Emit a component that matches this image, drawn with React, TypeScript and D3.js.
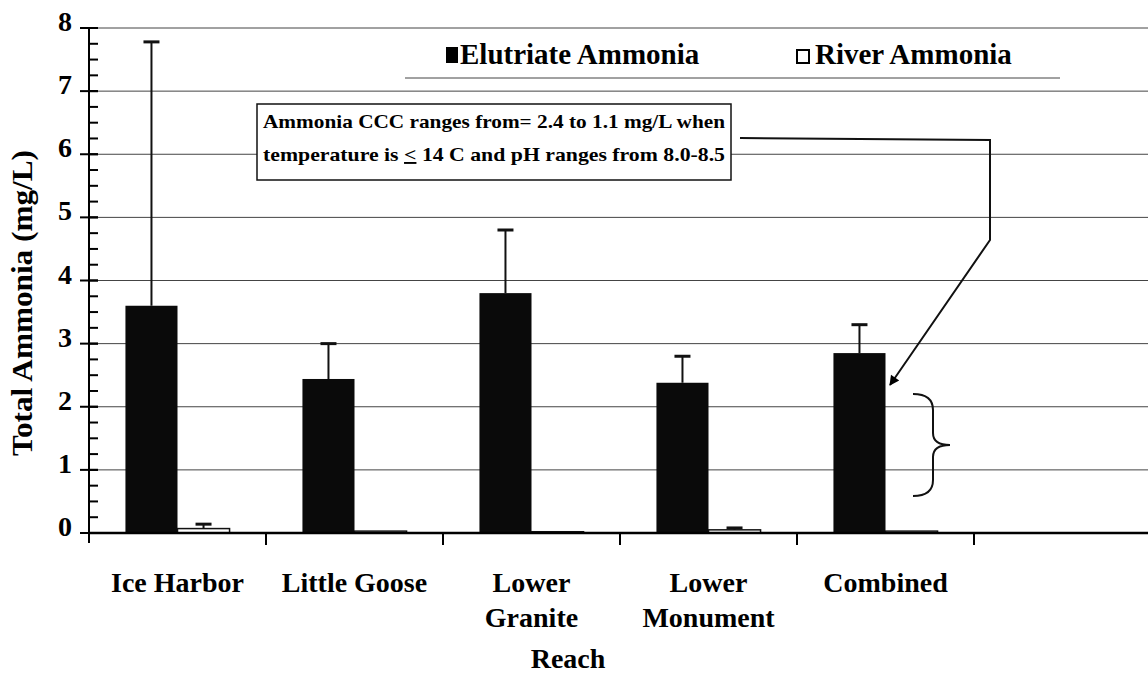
import * as d3 from 'd3';
import { useEffect, useRef } from 'react';

// values
const reaches = ['Ice Harbor', 'Little Goose', 'Lower Granite', 'Lower Monument', 'Combined', ''];
const reachLines = [['Ice Harbor'], ['Little Goose'], ['Lower', 'Granite'], ['Lower', 'Monument'], ['Combined'], []];
const elutriate = [3.6, 2.44, 3.8, 2.38, 2.85];
const elutriateErr = [4.18, 0.56, 1.0, 0.42, 0.45];
const river = [0.07, 0.03, 0.02, 0.05, 0.03];
const riverErr = [0.07, 0, 0, 0.03, 0];
const yTicks = [0, 1, 2, 3, 4, 5, 6, 7, 8];
const minorTicks = d3.range(0, 8.01, 0.25);
const noteLines = ['Ammonia CCC ranges from= 2.4 to 1.1 mg/L when', 'temperature is ', ' 14 C and pH ranges from 8.0-8.5'];

const FONT = '"Liberation Serif", "Times New Roman", serif';

function App() {
  const svgRef = useRef<SVGSVGElement>(null);

  useEffect(() => {
    const W = 1148, H = 675;
    const svg = d3.select(svgRef.current);
    svg.selectAll('*').remove();
    svg.attr('width', W).attr('height', H).style('font-family', FONT);

    const left = 89, right = 1151, bottom = 533, top = 28;

    const x = d3.scaleBand().domain(reaches).range([left, right]).paddingInner(0).paddingOuter(0);
    const sub = d3.scaleBand().domain(['e', 'r']).range([0, x.bandwidth()]).paddingOuter(0.7).paddingInner(0);
    const y = d3.scaleLinear().domain([0, 8]).range([bottom, top]);

    // gridlines
    svg.append('g').selectAll('line').data(yTicks.filter(d => d > 0)).join('line')
      .attr('x1', left).attr('x2', W).attr('y1', d => y(d)).attr('y2', d => y(d))
      .attr('stroke', '#444').attr('stroke-width', 1);

    // legend box lines
    svg.append('line').attr('x1', 405).attr('x2', 1060).attr('y1', 78).attr('y2', 78)
      .attr('stroke', '#444').attr('stroke-width', 1);

    const bars = svg.append('g');
    elutriate.forEach((v, i) => {
      const bx = x(reaches[i])! + sub('e')!;
      bars.append('rect').attr('x', bx).attr('y', y(v)).attr('width', sub.bandwidth()).attr('height', y(0) - y(v))
        .attr('fill', '#0a0a0a');
      const cx = bx + sub.bandwidth() / 2;
      const t = y(v + elutriateErr[i]);
      bars.append('line').attr('x1', cx).attr('x2', cx).attr('y1', y(v)).attr('y2', t).attr('stroke', '#111').attr('stroke-width', 2);
      bars.append('line').attr('x1', cx - 8).attr('x2', cx + 8).attr('y1', t).attr('y2', t).attr('stroke', '#111').attr('stroke-width', 3);
    });
    river.forEach((v, i) => {
      const bx = x(reaches[i])! + sub('r')!;
      bars.append('rect').attr('x', bx).attr('y', y(v)).attr('width', sub.bandwidth()).attr('height', y(0) - y(v))
        .attr('fill', '#fff').attr('stroke', '#111').attr('stroke-width', 1.5);
      if (riverErr[i] > 0) {
        const cx = bx + sub.bandwidth() / 2;
        const t = y(v + riverErr[i]);
        bars.append('line').attr('x1', cx).attr('x2', cx).attr('y1', y(v)).attr('y2', t).attr('stroke', '#111').attr('stroke-width', 2);
        bars.append('line').attr('x1', cx - 8).attr('x2', cx + 8).attr('y1', t).attr('y2', t).attr('stroke', '#111').attr('stroke-width', 3);
      }
    });

    // y axis
    const ya = svg.append('g');
    ya.append('line').attr('x1', left).attr('x2', left).attr('y1', top).attr('y2', bottom + 10)
      .attr('stroke', '#000').attr('stroke-width', 2);
    ya.selectAll('line.minor').data(minorTicks).join('line').attr('class', 'minor')
      .attr('x1', left).attr('x2', left + 9).attr('y1', d => y(d)).attr('y2', d => y(d))
      .attr('stroke', '#000').attr('stroke-width', 2);
    ya.selectAll('line.major').data(yTicks).join('line').attr('class', 'major')
      .attr('x1', left - 9).attr('x2', left + 9).attr('y1', d => y(d)).attr('y2', d => y(d))
      .attr('stroke', '#000').attr('stroke-width', 2);
    ya.selectAll('text').data(yTicks).join('text')
      .attr('x', 72).attr('y', d => y(d) + 3).attr('text-anchor', 'end')
      .attr('font-size', 28).attr('font-weight', 'bold').text(d => d);

    // x axis
    const xa = svg.append('g');
    xa.append('line').attr('x1', left).attr('x2', W).attr('y1', bottom).attr('y2', bottom)
      .attr('stroke', '#000').attr('stroke-width', 2.5);
    xa.selectAll('line.tick').data(reaches).join('line').attr('class', 'tick')
      .attr('x1', d => x(d)! + x.bandwidth()).attr('x2', d => x(d)! + x.bandwidth())
      .attr('y1', bottom).attr('y2', bottom + 12).attr('stroke', '#000').attr('stroke-width', 2);
    reaches.forEach((r, i) => {
      const t = xa.append('text').attr('text-anchor', 'middle').attr('font-size', 28).attr('font-weight', 'bold');
      reachLines[i].forEach((ln, j) => {
        t.append('tspan').attr('x', x(r)! + x.bandwidth() / 2).attr('y', 592 + j * 35).text(ln);
      });
    });

    // axis titles
    svg.append('text').attr('x', 568).attr('y', 668).attr('text-anchor', 'middle')
      .attr('font-size', 28).attr('font-weight', 'bold').text('Reach');
    svg.append('text').attr('transform', 'translate(32,303) rotate(-90)').attr('text-anchor', 'middle')
      .attr('font-size', 29).attr('font-weight', 'bold')
      .attr('textLength', 306).attr('lengthAdjust', 'spacingAndGlyphs').text('Total Ammonia (mg/L)');

    // legend
    const lg = svg.append('g').attr('font-size', 29).attr('font-weight', 'bold');
    lg.append('rect').attr('x', 446).attr('y', 47).attr('width', 12).attr('height', 16).attr('fill', '#000');
    lg.append('text').attr('x', 460).attr('y', 64).text('Elutriate Ammonia');
    lg.append('rect').attr('x', 797).attr('y', 50).attr('width', 12).attr('height', 13)
      .attr('fill', '#fff').attr('stroke', '#000').attr('stroke-width', 2);
    lg.append('text').attr('x', 815).attr('y', 64).text('River Ammonia');

    // annotation box
    const nb = svg.append('g').attr('font-size', 19).attr('font-weight', 'bold');
    nb.append('rect').attr('x', 257).attr('y', 104).attr('width', 474).attr('height', 76)
      .attr('fill', '#fff').attr('stroke', '#111').attr('stroke-width', 1.5);
    nb.append('text').attr('x', 263).attr('y', 128).attr('textLength', 462).attr('lengthAdjust', 'spacingAndGlyphs')
      .text(noteLines[0]);
    const l2 = nb.append('text').attr('x', 263).attr('y', 161).attr('textLength', 462).attr('lengthAdjust', 'spacingAndGlyphs');
    l2.append('tspan').text(noteLines[1]);
    l2.append('tspan').style('text-decoration', 'underline').text('<');
    l2.append('tspan').text(noteLines[2]);

    // connector arrow
    svg.append('defs').append('marker').attr('id', 'ah').attr('viewBox', '0 0 10 10')
      .attr('refX', 9).attr('refY', 5).attr('markerWidth', 14).attr('markerHeight', 10)
      .attr('markerUnits', 'userSpaceOnUse').attr('orient', 'auto')
      .append('path').attr('d', 'M0,0 L10,5 L0,10 Z').attr('fill', '#000');
    svg.append('path').attr('d', d3.line()([[740, 138], [990, 140], [990, 240], [890, 385]]))
      .attr('fill', 'none').attr('stroke', '#111').attr('stroke-width', 2).attr('marker-end', 'url(#ah)');

    // brace
    svg.append('path')
      .attr('d', 'M913,394 Q933,394 933,410 L933,433 Q933,445 950,445 Q933,445 933,457 L933,480 Q933,496 913,496')
      .attr('fill', 'none').attr('stroke', '#111').attr('stroke-width', 2);
  }, []);

  return <svg ref={svgRef} style={{ position: 'absolute', left: 0, top: 0, background: '#fff' }} />;
}

export default App;
